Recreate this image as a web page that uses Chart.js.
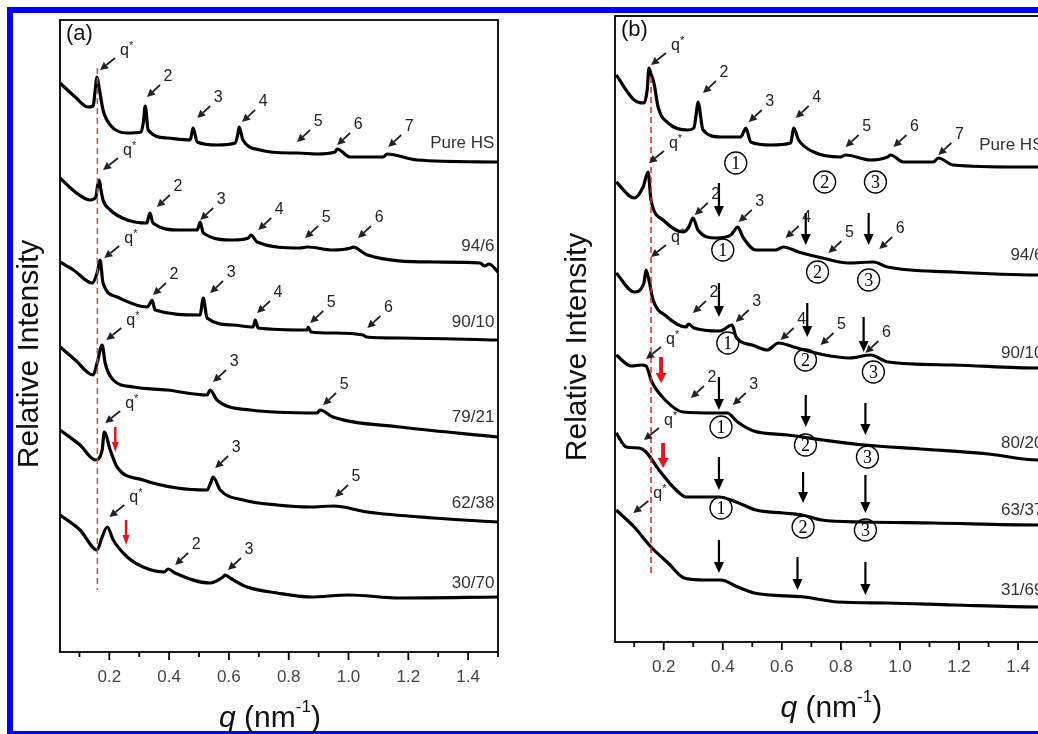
<!DOCTYPE html>
<html>
<head>
<meta charset="utf-8">
<script src="https://cdn.jsdelivr.net/npm/chart.js@4"></script>
<style>
  html, body { margin: 0; padding: 0; background: #fff; overflow: hidden; width: 1038px; height: 734px; }
  #frame { position: absolute; left: 7px; top: 7px; width: 1200px; height: 730px; border: 6px solid #0000ff; box-sizing: border-box; }
  #saxs-a { position: absolute; left: 0; top: 0; }
  #saxs-b { position: absolute; left: 520px; top: 0; }
</style>
</head>
<body>
<div id="frame"></div>
<canvas id="saxs-a" width="520" height="734"></canvas>
<canvas id="saxs-b" width="540" height="734"></canvas>
<script>
// ---- panel (a): [q (nm-1), relative intensity (a.u., curves offset)]
const a_pureHS = [[0.035,569],[0.086,555],[0.129,545],[0.146,546],[0.152,560],[0.159,575],[0.166,564],[0.179,542],[0.203,527],[0.26,519],[0.306,520],[0.314,530],[0.32,546],[0.33,522],[0.393,514],[0.47,512],[0.477,520],[0.48,524],[0.494,510],[0.56,507],[0.621,509],[0.63,518],[0.634,525],[0.647,512],[0.704,502],[0.805,499],[0.83,499],[0.895,498],[0.955,500],[0.962,503],[1.005,495],[1.116,495],[1.129,498],[1.229,492],[1.5,490]];
const a_94_6 = [[0.035,474],[0.086,460],[0.136,452],[0.155,455],[0.16,465],[0.166,472],[0.172,462],[0.179,452],[0.203,442],[0.26,432],[0.326,429],[0.331,435],[0.336,439],[0.346,429],[0.437,422],[0.494,422],[0.5,427],[0.504,430],[0.514,419],[0.614,412],[0.665,414],[0.674,417],[0.694,410],[0.838,404],[0.862,405],[0.948,402],[1.008,404],[1.015,405],[1.063,397],[1.283,390],[1.44,389],[1.455,386],[1.47,388],[1.5,380]];
const a_90_10 = [[0.035,390],[0.08,382],[0.143,369],[0.16,380],[0.169,392],[0.179,369],[0.226,355],[0.326,345],[0.337,349],[0.343,352],[0.353,342],[0.504,337],[0.51,348],[0.514,354],[0.527,334],[0.614,327],[0.681,325],[0.688,332],[0.698,324],[0.862,322],[0.865,325],[0.875,320],[0.948,319],[1.049,317],[1.06,315],[1.173,314],[1.5,312]];
const a_79_21 = [[0.035,305],[0.086,292],[0.146,277],[0.16,290],[0.176,307],[0.186,289],[0.213,272],[0.28,265],[0.393,262],[0.527,257],[0.533,260],[0.537,262],[0.56,252],[0.671,242],[0.895,239],[0.905,242],[0.948,235],[1.173,225],[1.5,215]];
const a_62_38 = [[0.035,222],[0.102,207],[0.153,192],[0.176,202],[0.183,220],[0.203,202],[0.226,185],[0.313,172],[0.427,164],[0.527,162],[0.54,170],[0.547,175],[0.571,162],[0.648,152],[0.761,147],[0.872,145],[0.95,146],[1.063,140],[1.283,134],[1.5,130]];
const a_30_70 = [[0.035,137],[0.102,122],[0.159,102],[0.176,115],[0.193,125],[0.213,112],[0.26,95],[0.313,85],[0.383,80],[0.397,83],[0.42,79],[0.537,69],[0.58,75],[0.587,77],[0.604,74],[0.661,65],[0.761,59],[0.872,55],[1.0,57],[1.173,54],[1.5,55]];

// peak markers: [q, intensity at arrow tip, label]
const a_peaks = [
  [0.169,582,"q*"],[0.326,555,"2"],[0.494,534,"3"],[0.644,530,"4"],[0.828,510,"5"],[0.962,507,"6"],[1.133,505,"7"],
  [0.179,482,"q*"],[0.359,445,"2"],[0.504,432,"3"],[0.698,422,"4"],[0.855,414,"5"],[1.032,414,"6"],
  [0.183,394,"q*"],[0.346,357,"2"],[0.537,359,"3"],[0.694,339,"4"],[0.872,329,"5"],[1.063,324,"6"],
  [0.19,312,"q*"],[0.547,270,"3"],[0.915,247,"5"],
  [0.186,229,"q*"],[0.554,184,"3"],[0.955,155,"5"],
  [0.2,135,"q*"],[0.42,87,"2"],[0.597,82,"3"]
];
const a_redArrows = [[0.22,225,200],[0.256,132,107]]; // [q, from, to]
const a_samples = [[509,"Pure HS"],[406,"94/6"],[330,"90/10"],[235,"79/21"],[149,"62/38"],[69,"30/70"]];
const a_qStar = [0.16, 584, 62]; // dashed guide: q, top, bottom

// ---- panel (b)
const b_pureHS = [[0.039,567],[0.1,542],[0.133,539],[0.144,552],[0.15,574],[0.157,568],[0.167,559],[0.181,535],[0.215,519],[0.282,512],[0.302,514],[0.31,528],[0.316,540],[0.333,512],[0.394,505],[0.461,505],[0.472,511],[0.478,514],[0.495,500],[0.562,497],[0.63,499],[0.636,508],[0.64,514],[0.657,502],[0.708,490],[0.799,485],[0.816,487],[0.9,482],[0.958,485],[0.968,487],[1.012,480],[1.113,480],[1.13,484],[1.18,477],[1.407,475],[1.5,475]];
const b_94_6 = [[0.039,460],[0.1,444],[0.13,455],[0.147,470],[0.157,442],[0.198,422],[0.265,410],[0.285,415],[0.299,424],[0.316,412],[0.377,404],[0.427,407],[0.451,415],[0.468,405],[0.512,392],[0.579,392],[0.606,395],[0.657,390],[0.738,384],[0.826,379],[0.91,380],[0.958,375],[1.18,370],[1.468,367],[1.5,367]];
const b_90_10 = [[0.039,369],[0.1,350],[0.133,359],[0.14,372],[0.15,362],[0.164,342],[0.208,326],[0.275,315],[0.285,318],[0.302,314],[0.39,311],[0.432,317],[0.445,305],[0.5,297],[0.55,292],[0.589,299],[0.64,295],[0.73,288],[0.83,284],[0.9,287],[0.96,280],[1.18,277],[1.468,274],[1.5,274]];
const b_80_20 = [[0.039,287],[0.09,276],[0.125,277],[0.14,276],[0.16,260],[0.205,242],[0.265,230],[0.38,229],[0.415,229],[0.45,220],[0.505,211],[0.62,207],[0.74,202],[0.88,197],[1.07,193],[1.3,188],[1.468,182],[1.5,182]];
const b_63_37 = [[0.039,209],[0.073,195],[0.117,194],[0.14,190],[0.184,172],[0.242,152],[0.275,145],[0.387,145],[0.445,140],[0.512,132],[0.604,129],[0.67,127],[0.735,122],[0.88,120],[1.113,119],[1.468,117],[1.5,117]];
const b_31_69 = [[0.039,132],[0.1,115],[0.157,95],[0.215,79],[0.269,64],[0.337,62],[0.394,62],[0.451,55],[0.507,49],[0.675,45],[0.789,40],[0.958,39],[1.18,37],[1.468,35],[1.5,35]];

const b_peaks = [
  [0.157,577,"q*"],[0.333,549,"2"],[0.488,520,"3"],[0.647,524,"4"],[0.816,495,"5"],[0.978,495,"6"],[1.13,487,"7"],
  [0.15,479,"q*"],[0.305,427,"2"],[0.454,420,"3"],[0.613,404,"4"],[0.758,389,"5"],[0.93,393,"6"],
  [0.157,385,"q*"],[0.299,329,"2"],[0.444,320,"3"],[0.596,302,"4"],[0.731,297,"5"],[0.883,289,"6"],
  [0.14,283,"q*"],[0.292,244,"2"],[0.434,237,"3"],
  [0.133,202,"q*"],
  [0.097,129,"q*"]
];
const b_downArrows = [[0.387,459,425],[0.681,429,397],[0.894,429,397],[0.387,359,325],[0.686,339,305],[0.877,325,290],[0.387,265,232],[0.681,247,215],[0.883,239,207],[0.387,185,152],[0.672,170,139],[0.883,167,129],[0.387,102,69],[0.653,85,52],[0.883,80,47]];
const b_circled = [[0.444,479,"1"],[0.745,460,"2"],[0.917,460,"3"],[0.4,392,"1"],[0.721,370,"2"],[0.894,362,"3"],[0.417,299,"1"],[0.68,282,"2"],[0.91,270,"3"],[0.394,215,"1"],[0.68,197,"2"],[0.89,185,"3"],[0.394,134,"1"],[0.672,115,"2"],[0.883,112,"3"]];
const b_redArrows = [[0.191,285,259],[0.198,199,174]];
const b_samples = [[497,"Pure HS"],[387,"94/6"],[289,"90/10"],[199,"80/20"],[132,"63/37"],[52,"31/69"]];
const b_qStar = [0.157, 565, 69];

const FONT = "'Liberation Sans', Arial, sans-serif";

function arrowTo(ctx, x1, y1, x2, y2, lw, hl, hw) {
  const ang = Math.atan2(y2 - y1, x2 - x1);
  const bx = x2 - hl * Math.cos(ang), by = y2 - hl * Math.sin(ang);
  ctx.lineWidth = lw;
  ctx.beginPath();
  ctx.moveTo(x1, y1);
  ctx.lineTo(bx, by);
  ctx.stroke();
  ctx.beginPath();
  ctx.moveTo(x2, y2);
  ctx.lineTo(bx + hw * Math.sin(ang), by - hw * Math.cos(ang));
  ctx.lineTo(bx - hw * Math.sin(ang), by + hw * Math.cos(ang));
  ctx.closePath();
  ctx.fill();
}

const overlay = {
  id: "overlay",
  afterDatasetsDraw(chart, args, o) {
    const ctx = chart.ctx;
    const a = chart.chartArea;
    const xs = chart.scales.x;
    const X = (q) => xs.getPixelForValue(q);
    const Y = (v) => chart.scales.y.getPixelForValue(v);
    ctx.save();
    ctx.strokeStyle = "#000";
    ctx.lineWidth = 1.8;
    ctx.strokeRect(a.left, a.top, a.right - a.left, a.bottom - a.top);
    // ticks: long at labelled values, short in between
    xs.ticks.forEach((t) => {
      const k = Math.round(t.value * 10);
      const x = X(t.value);
      ctx.lineWidth = 1.8;
      ctx.beginPath();
      ctx.moveTo(x, a.bottom);
      ctx.lineTo(x, a.bottom + (k % 2 === 0 ? 8 : 5));
      ctx.stroke();
    });

    ctx.fillStyle = "#222";
    ctx.strokeStyle = "#222";
    ctx.textBaseline = "middle";
    (o.peaks || []).forEach(([q, v, t]) => {
      const x = X(q), y = Y(v);
      if (t === "q*") {
        arrowTo(ctx, x + 15, y - 12, x, y, 1.8, 8, 4);
        ctx.textAlign = "left";
        ctx.font = "16px " + FONT;
        ctx.fillText("q", x + 20, y - 19);
        const w = ctx.measureText("q").width;
        ctx.font = "11px " + FONT;
        ctx.fillText("*", x + 20 + w, y - 24);
      } else {
        arrowTo(ctx, x + 13, y - 12, x, y, 1.8, 8, 4);
        ctx.textAlign = "center";
        ctx.font = "16px " + FONT;
        ctx.fillText(t, x + 21, y - 20);
      }
    });

    ctx.fillStyle = "#000";
    ctx.strokeStyle = "#000";
    (o.down || []).forEach(([q, v1, v2]) => {
      arrowTo(ctx, X(q), Y(v1), X(q), Y(v2), 2.2, 11, 5);
    });

    (o.circled || []).forEach(([q, v, t]) => {
      const x = X(q), y = Y(v);
      ctx.lineWidth = 1.3;
      ctx.beginPath();
      ctx.arc(x, y, 11, 0, Math.PI * 2);
      ctx.stroke();
      ctx.textAlign = "center";
      ctx.font = "18px 'Liberation Serif', serif";
      ctx.fillText(t, x, y + 1);
    });

    ctx.fillStyle = "#e8141c";
    ctx.strokeStyle = "#e8141c";
    (o.red || []).forEach(([q, v1, v2]) => {
      arrowTo(ctx, X(q), Y(v1), X(q), Y(v2), o.redWidth, 10, o.redHead);
    });

    ctx.fillStyle = "#333";
    ctx.textAlign = "right";
    ctx.font = "17px " + FONT;
    (o.samples || []).forEach(([v, t]) => ctx.fillText(t, X(o.sampleQ), Y(v)));

    // panel tag
    ctx.fillStyle = "#111";
    ctx.textAlign = "left";
    ctx.font = "22px " + FONT;
    ctx.fillText(o.tag, a.left + 6, a.top + 14);

    // y title
    ctx.save();
    ctx.translate(a.left + o.yTitleDx, (a.top + a.bottom) / 2 + 18);
    ctx.rotate(-Math.PI / 2);
    ctx.textAlign = "center";
    ctx.font = "30px " + FONT;
    ctx.fillText("Relative Intensity", 0, 0);
    ctx.restore();

    // x title: q (nm^-1)
    const parts = [["q", "italic 30px " + FONT, 0], [" (nm", "30px " + FONT, 0], ["-1", "17px " + FONT, -12], [")", "30px " + FONT, 0]];
    let total = 0;
    parts.forEach(([s, f]) => { ctx.font = f; total += ctx.measureText(s).width; });
    let cx = (a.left + a.right) / 2 + o.xTitleDx - total / 2;
    const cy = a.bottom + 67;
    ctx.textAlign = "left";
    parts.forEach(([s, f, dy]) => {
      ctx.font = f;
      ctx.fillText(s, cx, cy + dy);
      cx += ctx.measureText(s).width;
    });
    ctx.restore();
  }
};

function curve(arr) {
  return {
    data: arr.map(([q, v]) => ({ x: q, y: v })),
    borderColor: "#000",
    borderWidth: 3.2,
    pointRadius: 0,
    cubicInterpolationMode: "monotone",
    fill: false,
  };
}

function guide(g, color) {
  return {
    data: [{ x: g[0], y: g[1] }, { x: g[0], y: g[2] }],
    borderColor: color,
    borderWidth: 1.5,
    borderDash: [6, 4],
    pointRadius: 0,
    fill: false,
  };
}

function xAxis(axisHeight) {
  return {
    type: "linear",
    min: 0.035,
    max: 1.5,
    afterFit: (axis) => { axis.height = axisHeight; },
    grid: { display: false },
    border: { display: false },
    ticks: {
      stepSize: 0.1,
      includeBounds: false,
      autoSkip: false,
      maxRotation: 0,
      padding: 7,
      color: "#444",
      font: { size: 17, family: FONT },
      callback: (v) => (Math.round(v * 10) % 2 === 0 ? v.toFixed(1) : ""),
    },
  };
}

new Chart(document.getElementById("saxs-a"), {
  type: "line",
  data: {
    datasets: [
      guide(a_qStar, "#c0504d"),
      curve(a_pureHS), curve(a_94_6), curve(a_90_10), curve(a_79_21), curve(a_62_38), curve(a_30_70),
    ],
  },
  options: {
    responsive: false,
    animation: false,
    layout: { padding: { left: 60, right: 22, top: 20, bottom: 0 } },
    scales: {
      x: xAxis(82),
      y: { type: "linear", min: 0, max: 632, display: false },
    },
    plugins: {
      legend: { display: false },
      tooltip: { enabled: false },
      overlay: {
        peaks: a_peaks, red: a_redArrows, redWidth: 2.5, redHead: 3.5,
        samples: a_samples, sampleQ: 1.488,
        tag: "(a)", yTitleDx: -30, xTitleDx: -9,
      },
    },
  },
  plugins: [overlay],
});

new Chart(document.getElementById("saxs-b"), {
  type: "line",
  data: {
    datasets: [
      guide(b_qStar, "#e82020"),
      curve(b_pureHS), curve(b_94_6), curve(b_90_10), curve(b_80_20), curve(b_63_37), curve(b_31_69),
    ],
  },
  options: {
    responsive: false,
    animation: false,
    layout: { padding: { left: 95, right: 12.4, top: 16, bottom: 0 } },
    scales: {
      x: xAxis(92),
      y: { type: "linear", min: 0, max: 626, display: false },
    },
    plugins: {
      legend: { display: false },
      tooltip: { enabled: false },
      overlay: {
        peaks: b_peaks, down: b_downArrows, circled: b_circled,
        red: b_redArrows, redWidth: 4, redHead: 5.5,
        samples: b_samples, sampleQ: 1.486,
        tag: "(b)", yTitleDx: -37, xTitleDx: 0,
      },
    },
  },
  plugins: [overlay],
});
</script>
</body>
</html>
